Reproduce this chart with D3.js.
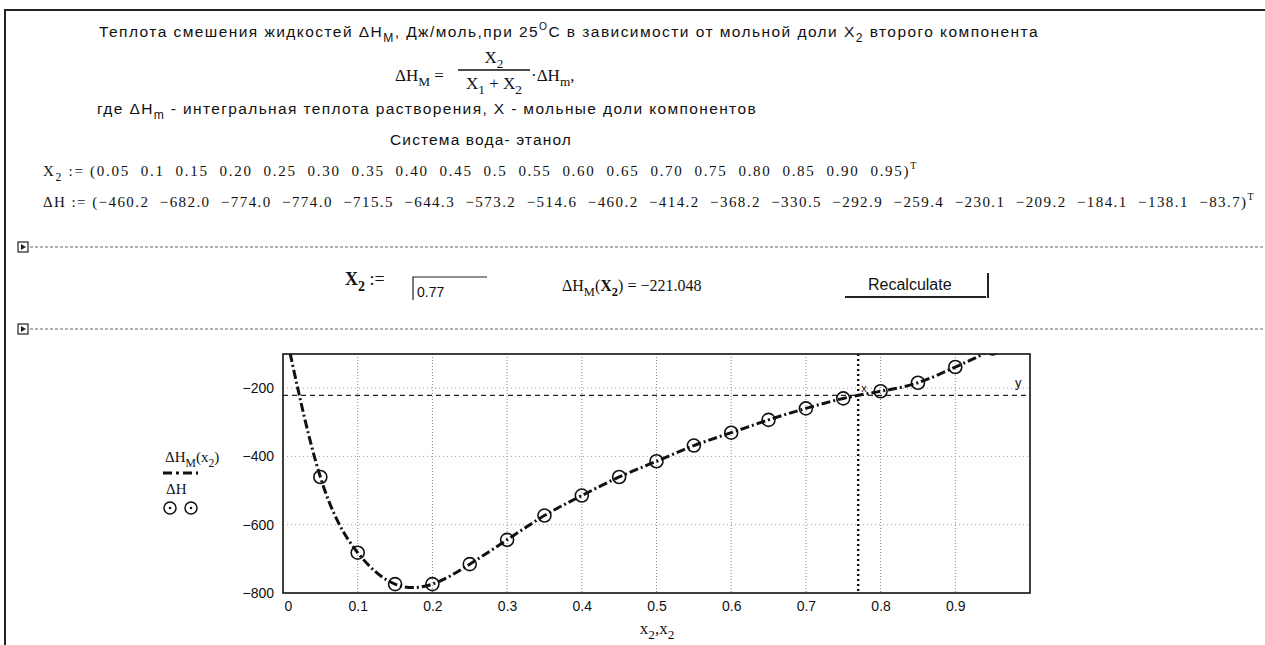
<!DOCTYPE html>
<html>
<head>
<meta charset="utf-8">
<script src="https://cdn.jsdelivr.net/npm/d3@7"></script>
<style>
body { margin: 0; background: #fff; }
svg text { white-space: pre; fill: #111; }
.sans { font-family: "Liberation Sans", Arial, sans-serif; }
.serif { font-family: "Liberation Serif", "Times New Roman", serif; }
</style>
</head>
<body>
<div id="chart-area"></div>
<script>

// Data (mole fraction X2 and heat of mixing, J/mol)
var x2Values = [0.05, 0.1, 0.15, 0.20, 0.25, 0.30, 0.35, 0.40, 0.45, 0.5, 0.55, 0.60, 0.65, 0.70, 0.75, 0.80, 0.85, 0.90, 0.95];
var x2Text = ["0.05", "0.1", "0.15", "0.20", "0.25", "0.30", "0.35", "0.40", "0.45", "0.5", "0.55", "0.60", "0.65", "0.70", "0.75", "0.80", "0.85", "0.90", "0.95"];
var dHValues = [-460.2, -682.0, -774.0, -774.0, -715.5, -644.3, -573.2, -514.6, -460.2, -414.2, -368.2, -330.5, -292.9, -259.4, -230.1, -209.2, -184.1, -138.1, -83.7];

// pure components at both ends of the ΔH_M(X2) curve
var endX = [0, 1];
var endH = [0, 0];

// trace marker
var x2Input = 0.77;
var dHResult = -221.048;

var xTicks = [0, 0.1, 0.2, 0.3, 0.4, 0.5, 0.6, 0.7, 0.8, 0.9];
var yTicks = [-800, -600, -400, -200];

var W = 1265, H = 645;

var svg = d3.select("#chart-area").append("svg")
    .attr("width", W)
    .attr("height", H);

// helpers
function richText(parent, x, y, parts, size, cls) {
    var t = parent.append("text")
        .attr("class", cls)
        .attr("x", x)
        .attr("y", y)
        .style("font-size", size + "px");
    var shift = 0;
    parts.forEach(function(p) {
        var s = p[1] === "sub" ? size * 0.32 : (p[1] === "sup" ? -size * 0.45 : 0);
        var ts = t.append("tspan").attr("dy", s - shift).text(p[0]);
        if (p[1] === "sub") ts.style("font-size", (size * 0.78) + "px");
        if (p[1] === "sup") ts.style("font-size", (size * 0.66) + "px");
        if (p[2]) ts.style("font-weight", p[2]);
        shift = s;
    });
    return t;
}

function fitWidth(t, w) {
    var len = t.node().getComputedTextLength();
    var n = t.node().getNumberOfChars();
    t.style("letter-spacing", ((w - len) / n) + "px");
}

// page frame
svg.append("line").attr("x1", 4).attr("x2", W).attr("y1", 10).attr("y2", 10)
    .attr("stroke", "#222").attr("stroke-width", 2);
svg.append("line").attr("x1", 5).attr("x2", 5).attr("y1", 10).attr("y2", H)
    .attr("stroke", "#222").attr("stroke-width", 2);

// header text
var title = richText(svg, 99, 37, [
    ["Теплота смешения жидкостей ΔH"], ["M", "sub"], [", Дж/моль,при 25"], ["O", "sup"],
    ["C в зависимости от мольной доли X"], ["2", "sub"], [" второго компонента"]
], 15.5, "sans");
fitWidth(title, 940);

// formula
richText(svg, 395, 81, [["ΔH"], ["M", "sub"], [" ="]], 17, "serif");
svg.append("line").attr("x1", 458).attr("x2", 530).attr("y1", 70).attr("y2", 70)
    .attr("stroke", "#111").attr("stroke-width", 1.3);
richText(svg, 494, 63, [["X"], ["2", "sub"]], 17, "serif").attr("text-anchor", "middle");
richText(svg, 494, 89, [["X"], ["1", "sub"], [" + X"], ["2", "sub"]], 17, "serif").attr("text-anchor", "middle");
richText(svg, 531, 81, [["·ΔH"], ["m", "sub"], [","]], 17, "serif");

var where = richText(svg, 97, 114, [
    ["где ΔH"], ["m", "sub"], [" - интегральная теплота растворения, X - мольные доли компонентов"]
], 15.5, "sans");
fitWidth(where, 660);

var sys = richText(svg, 390, 145, [["Система вода- этанол"]], 15.5, "sans");
fitWidth(sys, 182);

// vectors
var rowX = richText(svg, 43, 176, [["X"], ["2", "sub"], [" := (" + x2Text.join("  ") + ")"], ["T", "sup"]], 15, "serif");
fitWidth(rowX, 875);

var dHText = dHValues.map(d3.format(".1f"));
var rowH = richText(svg, 43, 207, [["ΔH := (" + dHText.join("  ") + ")"], ["T", "sup"]], 15, "serif");
fitWidth(rowH, 1212);

// region dividers
function divider(yPos) {
    svg.append("rect").attr("x", 18).attr("y", yPos - 5).attr("width", 10).attr("height", 10)
        .attr("fill", "#fff").attr("stroke", "#222").attr("stroke-width", 1.2);
    svg.append("path")
        .attr("d", "M21," + (yPos - 3) + "L26," + yPos + "L21," + (yPos + 3) + "Z")
        .attr("fill", "#222");
    svg.append("line").attr("x1", 30).attr("x2", W).attr("y1", yPos).attr("y2", yPos)
        .attr("stroke", "#666").attr("stroke-width", 1).attr("stroke-dasharray", "3,2");
}
divider(247);
divider(329);

// input row
richText(svg, 345, 285, [["X", null, "bold"], ["2", "sub", "bold"], [" :="]], 18, "serif");
svg.append("path").attr("d", "M413,300V277H487")
    .attr("fill", "none").attr("stroke", "#222").attr("stroke-width", 1.2);
richText(svg, 417, 297, [["0.77"]], 14, "sans");
richText(svg, 562, 291, [["ΔH"], ["M", "sub"], ["("], ["X", null, "bold"], ["2", "sub", "bold"], [") = " + d3.format(".3f")(dHResult)]], 16, "serif");
richText(svg, 868, 290, [["Recalculate"]], 16, "sans");
svg.append("line").attr("x1", 845).attr("x2", 986).attr("y1", 297).attr("y2", 297)
    .attr("stroke", "#222").attr("stroke-width", 2);
svg.append("line").attr("x1", 988).attr("x2", 988).attr("y1", 273).attr("y2", 298)
    .attr("stroke", "#222").attr("stroke-width", 2);

// plot
var margin = {top: 354, right: 235, bottom: 52, left: 283};
var width = W - margin.left - margin.right;
var height = H - margin.top - margin.bottom;

var g = svg.append("g")
    .attr("transform", "translate(" + margin.left + "," + margin.top + ")");

var x = d3.scaleLinear().domain([0, 1]).range([0, width]);
var y = d3.scaleLinear().domain([-800, -100]).range([height, 0]);

g.append("clipPath").attr("id", "clip")
    .append("rect").attr("width", width).attr("height", height);

// grid
g.selectAll(".vgrid").data(xTicks.slice(1)).enter().append("line")
    .attr("class", "vgrid")
    .attr("x1", function(d) { return x(d); })
    .attr("x2", function(d) { return x(d); })
    .attr("y1", 0).attr("y2", height)
    .attr("stroke", "#8a8a8a").attr("stroke-dasharray", "1,2");
g.selectAll(".hgrid").data(yTicks.slice(1)).enter().append("line")
    .attr("class", "hgrid")
    .attr("x1", 0).attr("x2", width)
    .attr("y1", function(d) { return y(d); })
    .attr("y2", function(d) { return y(d); })
    .attr("stroke", "#a0a0a0").attr("stroke-dasharray", "1,3");

// axes
var xAxis = g.append("g")
    .attr("transform", "translate(0," + height + ")")
    .call(d3.axisBottom(x).tickValues(xTicks).tickSize(0).tickPadding(8)
        .tickFormat(function(d) { return d === 0 ? "0" : d3.format(".1f")(d); }));
xAxis.select(".domain").remove();
xAxis.selectAll("text").attr("class", "sans").style("font-size", "14px");
xAxis.selectAll(".tick").filter(function(d) { return d === 0; }).select("text")
    .attr("text-anchor", "start").attr("x", 1);

var yAxis = g.append("g")
    .call(d3.axisLeft(y).tickValues(yTicks).tickSize(0).tickPadding(9));
yAxis.select(".domain").remove();
yAxis.selectAll("text").attr("class", "sans").style("font-size", "14px");

// trace markers
g.append("line")
    .attr("x1", 0).attr("x2", width)
    .attr("y1", y(dHResult)).attr("y2", y(dHResult))
    .attr("stroke", "#222").attr("stroke-width", 1.2).attr("stroke-dasharray", "5,4");
g.append("line")
    .attr("x1", x(x2Input)).attr("x2", x(x2Input))
    .attr("y1", 0).attr("y2", height)
    .attr("stroke", "#111").attr("stroke-width", 2.4).attr("stroke-dasharray", "2,3");
g.append("text").attr("class", "sans")
    .attr("x", x(x2Input) + 3).attr("y", y(dHResult) - 3)
    .style("font-size", "11px").text("x");
g.append("text").attr("class", "sans")
    .attr("x", width - 15).attr("y", y(dHResult) - 8)
    .style("font-size", "13px").text("y");

// ΔH_M(x2) curve
var curvePts = [{x: endX[0], h: endH[0]}]
    .concat(x2Values.map(function(d, i) { return {x: d, h: dHValues[i]}; }))
    .concat([{x: endX[1], h: endH[1]}]);

var line = d3.line()
    .x(function(d) { return x(d.x); })
    .y(function(d) { return y(d.h); })
    .curve(d3.curveNatural);

var plotArea = g.append("g").attr("clip-path", "url(#clip)");

plotArea.append("path")
    .attr("d", line(curvePts))
    .attr("fill", "none")
    .attr("stroke", "#111")
    .attr("stroke-width", 3)
    .attr("stroke-dasharray", "9,3,2,3");

// ΔH points
plotArea.selectAll("circle.pt").data(x2Values).enter().append("circle")
    .attr("class", "pt")
    .attr("cx", function(d) { return x(d); })
    .attr("cy", function(d, i) { return y(dHValues[i]); })
    .attr("r", 6.5)
    .attr("fill", "none")
    .attr("stroke", "#111")
    .attr("stroke-width", 1.6);

// plot frame
g.append("rect").attr("width", width).attr("height", height)
    .attr("fill", "none").attr("stroke", "#111").attr("stroke-width", 1.6);

// axis titles / legend
richText(svg, 657, 634, [["x"], ["2", "sub"], [",x"], ["2", "sub"]], 17, "serif").attr("text-anchor", "middle");

richText(svg, 165, 462, [["ΔH"], ["M", "sub"], ["("], ["x"], ["2", "sub"], [")"]], 15, "serif");
svg.append("line").attr("x1", 163).attr("x2", 198).attr("y1", 473).attr("y2", 473)
    .attr("stroke", "#111").attr("stroke-width", 3).attr("stroke-dasharray", "9,4,3,4");
richText(svg, 166, 494, [["ΔH"]], 15, "serif");
[170, 191].forEach(function(cx) {
    svg.append("circle").attr("cx", cx).attr("cy", 508).attr("r", 6)
        .attr("fill", "none").attr("stroke", "#111").attr("stroke-width", 1.5);
    svg.append("circle").attr("cx", cx).attr("cy", 508).attr("r", 1.3).attr("fill", "#111");
});

</script>
</body>
</html>
